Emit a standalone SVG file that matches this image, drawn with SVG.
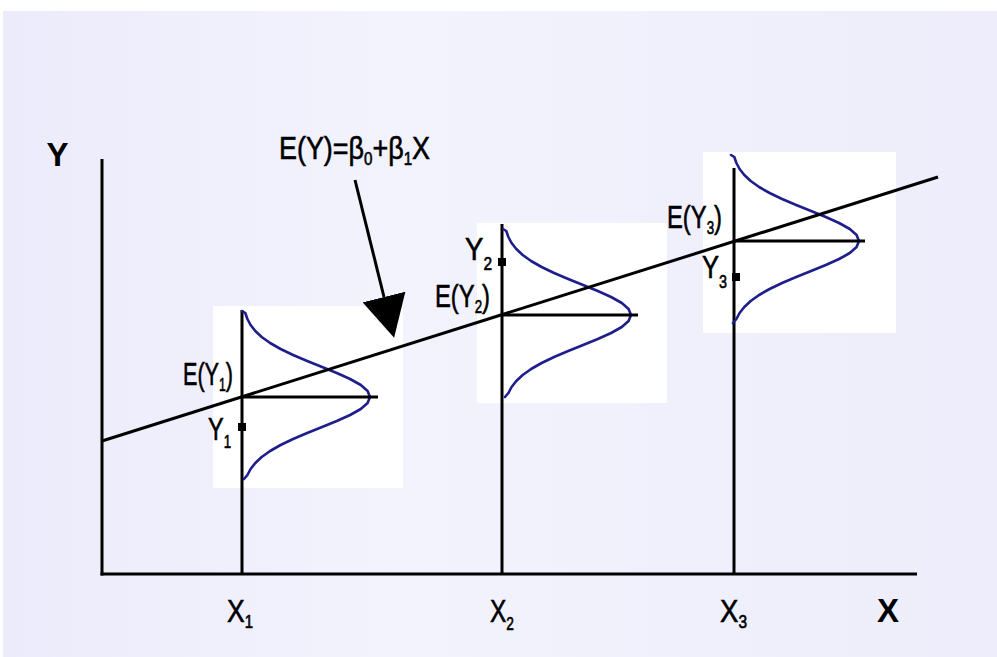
<svg xmlns="http://www.w3.org/2000/svg" width="997" height="657" viewBox="0 0 997 657">
  <defs>
    <linearGradient id="bg" x1="0" y1="0" x2="1" y2="0">
      <stop offset="0" stop-color="#ECEBFB"/>
      <stop offset="0.4" stop-color="#F3F3FD"/>
      <stop offset="1" stop-color="#EDEDFB"/>
    </linearGradient>
    <path id="bell" d="M0,-86 L3.3,-84 L5.4,-78 L8.6,-72 L13.3,-66 L19.7,-60 L28.1,-54 L38.6,-48 L51.1,-42 L65.2,-36 L80.1,-30 L94.8,-24 L108.1,-18 L118.8,-12 L125.6,-6 L128,0 L125.6,6 L118.8,12 L108.1,18 L94.8,24 L80.1,30 L65.2,36 L51.1,42 L38.6,48 L28.1,54 L19.7,60 L13.3,66 L8.6,72 L5.4,78 L2,82"/>
    <marker id="ah" markerUnits="userSpaceOnUse" markerWidth="44" markerHeight="44" refX="0" refY="22" orient="auto" viewBox="0 0 44 44">
      <path d="M0,0 L42,22 L0,44 z" fill="#000"/>
    </marker>
  </defs>
  <style>
    .ln { stroke: #000; stroke-width: 3; fill: none; }
    .curve { stroke: #1E1E8C; stroke-width: 2.6; fill: none; stroke-linejoin: round; stroke-linecap: round; }
    .box { fill: #FFFFFF; }
    .t { font-family: "Liberation Sans", Arial, sans-serif; font-size: 32px; fill: #000; stroke: #000; stroke-width: 0.6; }
    .sub { font-size: 18px; }
    .b { font-family: "Liberation Sans", Arial, sans-serif; font-size: 33px; font-weight: bold; fill: #000; }
    .pt { fill: #000; }
  </style>

  <rect x="0" y="0" width="997" height="657" fill="#FFFFFF"/>
  <rect x="3" y="11" width="994" height="646" fill="url(#bg)"/>

  <g id="axes">
    <line class="ln" x1="102" y1="159" x2="102" y2="575.5"/>
    <line class="ln" x1="100.5" y1="574" x2="917" y2="574"/>
    <text class="b" x="57.5" y="166" text-anchor="middle">Y</text>
    <text class="b" x="888" y="622" text-anchor="middle">X</text>
  </g>

  <g id="dist1">
    <rect class="box" x="213" y="306" width="190" height="182"/>
    <line class="ln" x1="242" y1="310" x2="242" y2="574"/>
    <use href="#bell" class="curve" transform="translate(242,397)"/>
    <line class="ln" x1="242" y1="397" x2="378" y2="397"/>
    <rect class="pt" x="238" y="423" width="8" height="8"/>
    <text class="t" x="183" y="385" textLength="50" lengthAdjust="spacingAndGlyphs">E(Y<tspan class="sub" dy="6">1</tspan><tspan dy="-6">)</tspan></text>
    <text class="t" x="208" y="440" textLength="23" lengthAdjust="spacingAndGlyphs">Y<tspan class="sub" dy="8">1</tspan></text>
    <text class="t" x="227" y="622" textLength="26" lengthAdjust="spacingAndGlyphs">X<tspan class="sub" dy="6">1</tspan></text>
  </g>

  <g id="dist2">
    <rect class="box" x="477" y="223" width="190" height="180"/>
    <line class="ln" x1="502" y1="224" x2="502" y2="574"/>
    <use href="#bell" class="curve" transform="translate(503,315)"/>
    <line class="ln" x1="502" y1="315" x2="638" y2="315"/>
    <rect class="pt" x="498" y="258" width="8" height="8"/>
    <text class="t" x="435" y="307" textLength="55" lengthAdjust="spacingAndGlyphs">E(Y<tspan class="sub" dy="6">2</tspan><tspan dy="-6">)</tspan></text>
    <text class="t" x="465" y="260" textLength="27" lengthAdjust="spacingAndGlyphs">Y<tspan class="sub" dy="10">2</tspan></text>
    <text class="t" x="490" y="622" textLength="24" lengthAdjust="spacingAndGlyphs">X<tspan class="sub" dy="8">2</tspan></text>
  </g>

  <g id="dist3">
    <rect class="box" x="703" y="152" width="193" height="181"/>
    <line class="ln" x1="734" y1="168" x2="734" y2="574"/>
    <use href="#bell" class="curve" transform="translate(731,241)"/>
    <line class="ln" x1="734" y1="241" x2="865" y2="241"/>
    <rect class="pt" x="732" y="273" width="8" height="8"/>
    <text class="t" x="667" y="228" textLength="55" lengthAdjust="spacingAndGlyphs">E(Y<tspan class="sub" dy="6">3</tspan><tspan dy="-6">)</tspan></text>
    <text class="t" x="702" y="278" textLength="25" lengthAdjust="spacingAndGlyphs">Y<tspan class="sub" dy="10">3</tspan></text>
    <text class="t" x="720" y="622" textLength="27" lengthAdjust="spacingAndGlyphs">X<tspan class="sub" dy="6">3</tspan></text>
  </g>

  <g id="regression">
    <line class="ln" x1="102" y1="441" x2="938" y2="177"/>
    <text class="t" x="279" y="159" textLength="151" lengthAdjust="spacingAndGlyphs">E(Y)=β<tspan class="sub" dy="6">0</tspan><tspan dy="-6">+β</tspan><tspan class="sub" dy="6">1</tspan><tspan dy="-6">X</tspan></text>
  </g>

  <g id="connectors">
    <line class="ln" x1="355" y1="180" x2="384" y2="297" marker-end="url(#ah)"/>
  </g>
</svg>
